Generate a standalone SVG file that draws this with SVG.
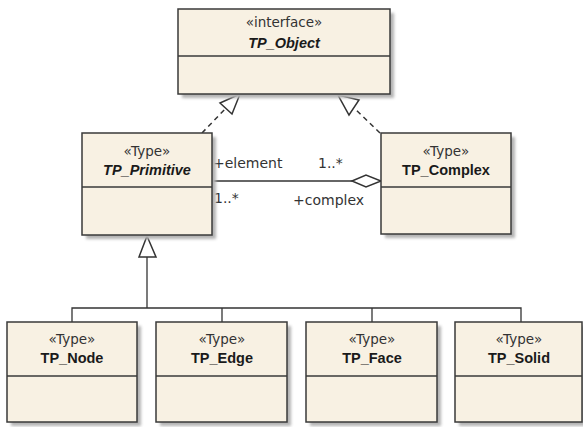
<svg xmlns="http://www.w3.org/2000/svg" width="583" height="427" viewBox="0 0 583 427">
<defs>
<filter id="sh" x="-10%" y="-10%" width="130%" height="130%"><feGaussianBlur stdDeviation="1.5"/></filter>
</defs>
<style>
.shadow{fill:#b4b4b4;filter:url(#sh)}
.box{fill:#f8f1e3;stroke:#3a3a3a;stroke-width:1.5}
.div{stroke:#3a3a3a;stroke-width:1.5}
.st{font-family:"DejaVu Sans",sans-serif;font-size:13.5px;fill:#333;text-anchor:middle}
.nm{font-family:"Liberation Sans",Arial,sans-serif;font-size:14.5px;font-weight:bold;fill:#1a1a1a;text-anchor:middle}
.it{font-style:italic}
.lbl{font-family:"DejaVu Sans",sans-serif;font-size:14px;fill:#333}
.ln{fill:none;stroke:#333;stroke-width:1.3}
.dash{fill:none;stroke:#333;stroke-width:1.5;stroke-dasharray:5,4}
.tri{fill:#fff;stroke:#333;stroke-width:1.5;stroke-linejoin:miter}
</style>
<rect width="583" height="427" fill="#fff"/>
<g id="connectors">
<line class="dash" x1="202" y1="133" x2="226" y2="108"/>
<polygon class="tri" points="240,94 220,103 232,114"/>
<line class="dash" x1="380" y1="133" x2="354" y2="108"/>
<polygon class="tri" points="338,95 359,100 349,115"/>
<line class="ln" x1="212" y1="181" x2="352" y2="181"/>
<polygon class="tri" points="352,181 366,175 381,181 366,187"/>
<polyline class="ln" points="147,257 147,308"/>
<polygon class="tri" points="147,236 156,257 139,257"/>
<polyline class="ln" points="72,322 72,308 521,308 521,322"/>
<line class="ln" x1="222" y1="308" x2="222" y2="322"/>
<line class="ln" x1="372" y1="308" x2="372" y2="322"/>
<text class="lbl" x="213" y="168">+element</text>
<text class="lbl" x="318" y="168">1..*</text>
<text class="lbl" x="214" y="203">1..*</text>
<text class="lbl" x="293" y="205">+complex</text>
</g>
<g id="TP_Object">
<rect class="shadow" x="182" y="13" width="212" height="85"/>
<rect class="box" x="178" y="9" width="212" height="85"/>
<line class="div" x1="178" y1="56" x2="390" y2="56"/>
<text class="st" x="284" y="27">«interface»</text>
<text class="nm it" x="284" y="48">TP_Object</text>
</g>
<g id="TP_Primitive">
<rect class="shadow" x="86" y="137" width="130" height="102"/>
<rect class="box" x="82" y="133" width="130" height="102"/>
<line class="div" x1="82" y1="187" x2="212" y2="187"/>
<text class="st" x="147" y="156">«Type»</text>
<text class="nm it" x="147" y="175">TP_Primitive</text>
</g>
<g id="TP_Complex">
<rect class="shadow" x="385" y="137" width="130" height="101"/>
<rect class="box" x="381" y="133" width="130" height="101"/>
<line class="div" x1="381" y1="187" x2="511" y2="187"/>
<text class="st" x="446" y="156">«Type»</text>
<text class="nm" x="446" y="175">TP_Complex</text>
</g>
<g id="TP_Node">
<rect class="shadow" x="11" y="326" width="130" height="100"/>
<rect class="box" x="7" y="322" width="130" height="100"/>
<line class="div" x1="7" y1="376" x2="137" y2="376"/>
<text class="st" x="72" y="344">«Type»</text>
<text class="nm" x="72" y="363">TP_Node</text>
</g>
<g id="TP_Edge">
<rect class="shadow" x="160" y="326" width="131" height="100"/>
<rect class="box" x="156" y="322" width="131" height="100"/>
<line class="div" x1="156" y1="376" x2="287" y2="376"/>
<text class="st" x="222" y="344">«Type»</text>
<text class="nm" x="222" y="363">TP_Edge</text>
</g>
<g id="TP_Face">
<rect class="shadow" x="310" y="326" width="131" height="100"/>
<rect class="box" x="306" y="322" width="131" height="100"/>
<line class="div" x1="306" y1="376" x2="437" y2="376"/>
<text class="st" x="372" y="344">«Type»</text>
<text class="nm" x="372" y="363">TP_Face</text>
</g>
<g id="TP_Solid">
<rect class="shadow" x="459" y="326" width="127" height="100"/>
<rect class="box" x="455" y="322" width="127" height="100"/>
<line class="div" x1="455" y1="376" x2="582" y2="376"/>
<text class="st" x="519" y="344">«Type»</text>
<text class="nm" x="519" y="363">TP_Solid</text>
</g>
</svg>
